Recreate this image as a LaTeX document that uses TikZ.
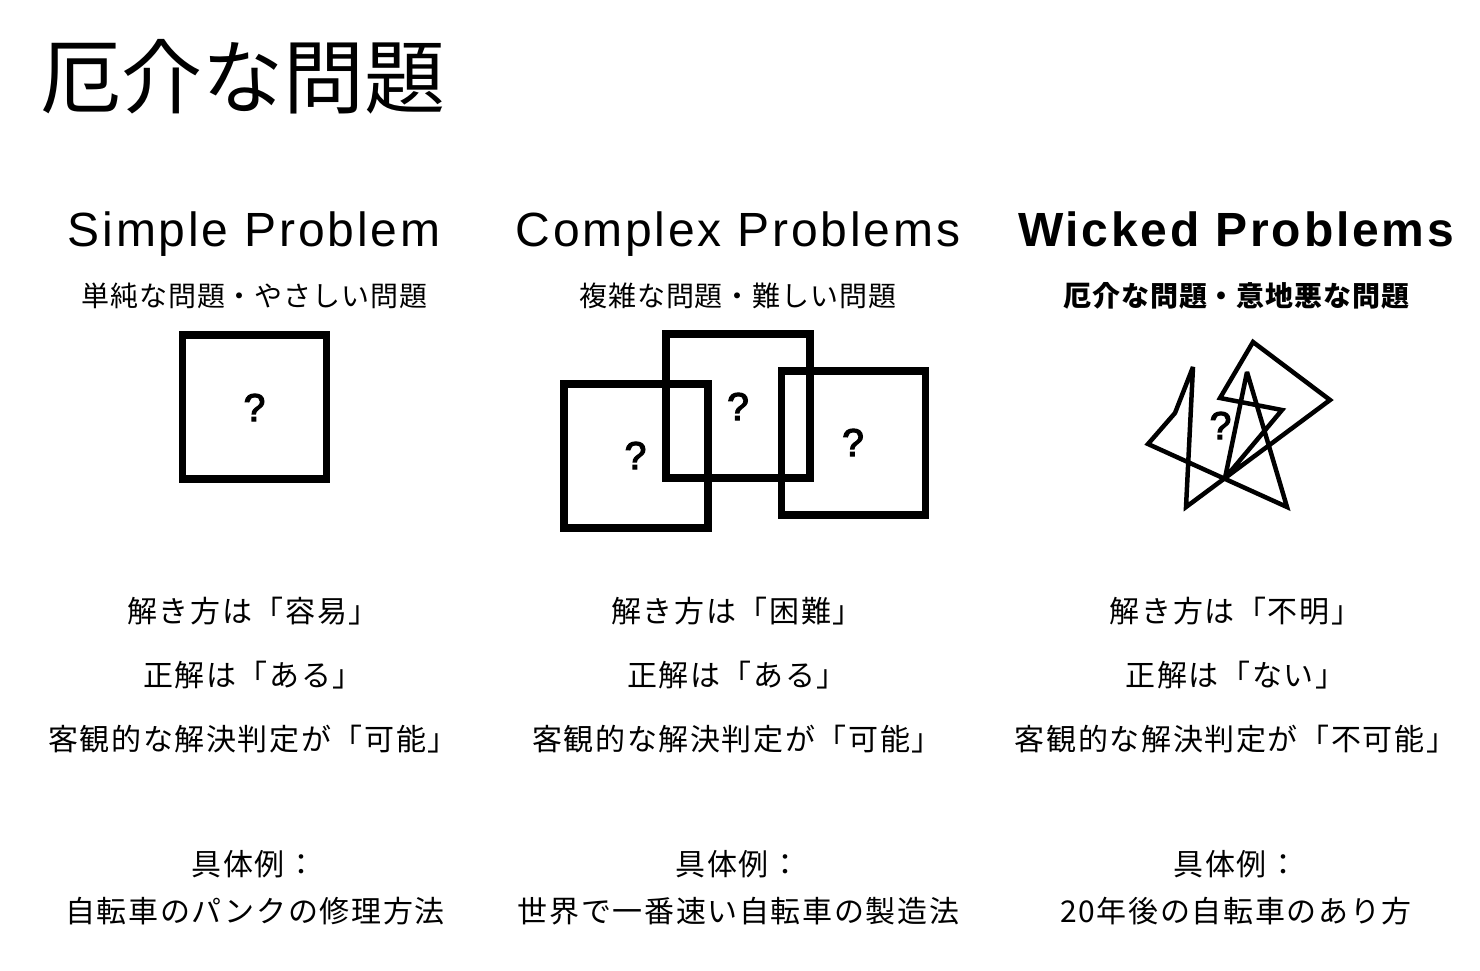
\documentclass[tikz,border=0pt]{standalone}
\usepackage{fontspec}
\setmainfont{Noto Sans CJK JP}
\newfontfamily\latinfont[LetterSpace=5.8]{Liberation Sans}
\newfontfamily\askfont[FakeBold=3]{Liberation Sans}
\newfontfamily\cjkwide[LetterSpace=5.5]{Noto Sans CJK JP}
\newfontfamily\cjksub[LetterSpace=3.5]{Noto Sans CJK JP}
\begin{document}
\begin{tikzpicture}[x=1pt,y=-1pt,
    txt/.style={inner sep=0pt,font=\cjkwide\fontsize{30}{34}\selectfont},
    sub/.style={inner sep=0pt,font=\cjksub\fontsize{28}{31}\selectfont},
    head/.style={inner sep=0pt,anchor=base,font=\latinfont\fontsize{48}{52}\selectfont},
    ask/.style={inner sep=0pt,font=\askfont\fontsize{39}{43}\selectfont},
    box/.style={draw=black,line width=7.5pt,minimum width=144pt,minimum height=144pt,inner sep=0pt}]
    \useasboundingbox (0,0) rectangle (1480,970);

    % Title
    \node[inner sep=0pt,font=\fontsize{81}{88}\selectfont] (title) at (242.5,77) {厄介な問題};

    % Headings
    \node[head] (simple) at (254,246.5) {Simple Problem};
    \node[head] (complex) at (738,246.5) {Complex Problems};
    \node[head,font=\latinfont\bfseries\fontsize{48}{52}\selectfont] (wicked) at (1236,246.5) {Wicked Problems};
    \node[sub] (simplesub) at (254.5,295.5) {単純な問題・やさしい問題};
    \node[sub] (complexsub) at (738,295.5) {複雑な問題・難しい問題};
    \node[sub,font=\cjksub\bfseries\fontsize{28}{31}\selectfont] (wickedsub) at (1236.5,295.5) {厄介な問題・意地悪な問題};

    % Squares
    \node[box] (sq1) at (254.5,407) {};
    \node[box] (sq2) at (738,406) {};
    \node[box] (sq3) at (636,456) {};
    \node[box] (sq4) at (853.5,443) {};
    \node[ask] (q1) at (254.5,407.5) {?};
    \node[ask] (q2) at (738,406.5) {?};
    \node[ask] (q3) at (635.5,455.5) {?};
    \node[ask] (q4) at (853,442.5) {?};

    % Tangle
    \draw[line width=4.5pt,line join=miter,miter limit=4] (1193,367) -- (1186,507) -- (1330,400) -- (1253,342) -- (1220,398) -- (1282,410) -- (1225,478) -- (1247,372) -- (1287,507) -- (1148,444) -- (1175,413) -- cycle;
    \node[ask] (q5) at (1220.5,425.5) {?};

    % Simple column
    \node[txt] (a1) at (253,611) {解き方は「容易」};
    \node[txt] (a2) at (253,675) {正解は「ある」};
    \node[txt] (a3) at (253,739) {客観的な解決判定が「可能」};
    \node[txt] (a4) at (254,864) {具体例：};
    \node[txt] (a5) at (255,911.5) {自転車のパンクの修理方法};

    % Complex column
    \node[txt] (b1) at (737,611) {解き方は「困難」};
    \node[txt] (b2) at (737,675) {正解は「ある」};
    \node[txt] (b3) at (737,739) {客観的な解決判定が「可能」};
    \node[txt] (b4) at (738,864) {具体例：};
    \node[txt] (b5) at (738.5,911.5) {世界で一番速い自転車の製造法};

    % Wicked column
    \node[txt] (c1) at (1235.5,611) {解き方は「不明」};
    \node[txt] (c2) at (1235.5,675) {正解は「ない」};
    \node[txt] (c3) at (1235.5,739) {客観的な解決判定が「不可能」};
    \node[txt] (c4) at (1236,864) {具体例：};
    \node[txt] (c5) at (1236,911.5) {20年後の自転車のあり方};
\end{tikzpicture}
\end{document}
